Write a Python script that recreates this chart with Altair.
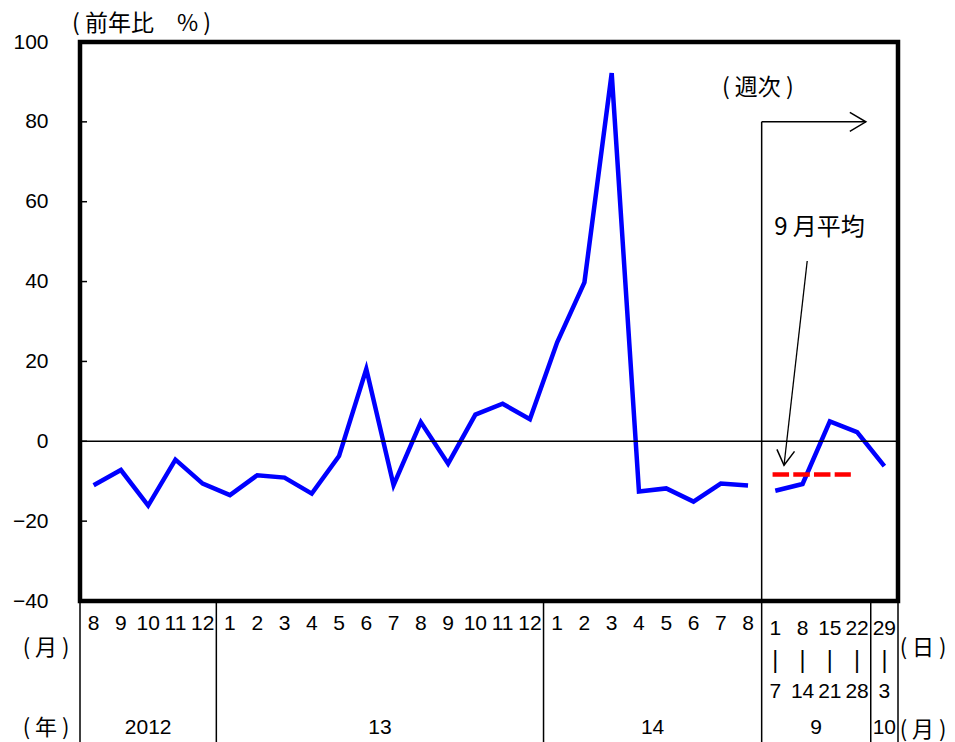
import altair as alt
import pandas as pd

# ---------------- data ----------------
month_labels = ["8", "9", "10", "11", "12",
                "1", "2", "3", "4", "5", "6", "7", "8", "9", "10", "11", "12",
                "1", "2", "3", "4", "5", "6", "7", "8"]
monthly_values = [-11.0, -7.2, -16.1, -4.6, -10.6,
                  -13.5, -8.5, -9.1, -13.1, -3.7, 18.1, -11.0, 4.8, -5.6, 6.7, 9.4, 5.5,
                  24.8, 39.8, 92.2, -12.6, -11.8, -15.1, -10.6, -11.1]
week_start = ["1", "8", "15", "22", "29"]
week_end = ["7", "14", "21", "28", "3"]
weekly_values = [-12.4, -10.7, 5.0, 2.3, -6.2]
sept_average = -8.3
year_labels = ["2012", "13", "14", "9", "10"]
year_counts = [5, 12, 8, 4, 1]
y_ticks = [-40, -20, 0, 20, 40, 60, 80, 100]
y_title = "( 前年比　% )"
week_note = "( 週次 )"
avg_note = "9 月平均"
unit_labels = ["( 月 )", "( 年 )", "( 日 )", "( 月 )"]

LATIN = "Liberation Sans"
CJK = "Noto Sans CJK JP"
W, H = 818, 559

n_month = len(month_labels)
n_all = n_month + len(week_start)

# ---------------- tables ----------------
line_df = pd.DataFrame({
    "x": list(range(n_all)),
    "v": monthly_values + weekly_values,
    "seg": ["month"] * n_month + ["week"] * len(week_start),
})
month_df = pd.DataFrame({"x": list(range(n_month)), "label": month_labels})
week_df = pd.DataFrame({
    "x": list(range(n_month, n_all)),
    "start": week_start,
    "bar": ["|"] * len(week_start),
    "end": week_end,
})
bounds = [-0.5]
for c in year_counts:
    bounds.append(bounds[-1] + c)
year_df = pd.DataFrame({
    "x": [(bounds[i] + 0.5 + bounds[i + 1] - 0.5) / 2 for i in range(len(year_labels))],
    "label": year_labels,
})
sep_df = pd.DataFrame({"x": [b for b in bounds if b != n_month - 0.5]})
avg_df = pd.DataFrame({"x": [n_month - 0.1, n_month + 2.77], "v": [sept_average] * 2})
tick_df = pd.DataFrame({"v": y_ticks[1:-1]})
zero_df = pd.DataFrame({"v": [0]})

# annotation anchors (in data units)
vline_df = pd.DataFrame({"x": [n_month - 0.5], "v": [80]})
hline_df = pd.DataFrame({"x": [n_month - 0.5], "x2": [28.32], "v": [80]})
hhead_df = pd.DataFrame({"x": [28.32], "v": [80]})
wtext_df = pd.DataFrame({"x": [24.36], "v": [88.4], "t": [week_note]})
atext_df = pd.DataFrame({"x": [26.62], "v": [53.3], "t": [avg_note]})
aarrow_df = pd.DataFrame({"x": [26.17], "x2": [25.32], "v": [45.15], "v2": [-6.0]})
ahead_df = pd.DataFrame({"x": [25.32], "v": [-6.0]})
unit_df = pd.DataFrame({"t": unit_labels, "px": [-34, -34, W + 25, W + 25], "py": [606, 686, 606, 688]})

xs = alt.Scale(domain=[-0.5, n_all - 0.5], nice=False, zero=False)
ys = alt.Scale(domain=[-40, 100], nice=False, zero=False)
yaxis = alt.Axis(values=y_ticks, grid=False, domain=False, ticks=False, tickSize=0,
                 labelPadding=32, labelFont=LATIN, labelFontSize=21, labelColor="black",
                 title=y_title, titleAngle=0, titleX=61, titleY=-19,
                 titleAlign="center", titleBaseline="middle", titleFont=CJK,
                 titleFontSize=23, titleFontWeight="normal", titleColor="black")


def X(f="x"):
    return alt.X(f + ":Q", scale=xs, axis=None)


def Y(f="v"):
    return alt.Y(f + ":Q", scale=ys, axis=yaxis)


# ---------------- layers ----------------
base_line = alt.Chart(line_df).mark_line(color="#0000FF", strokeWidth=4.5, strokeJoin="miter").encode(
    x=X(), y=Y(), detail="seg:N")

zero_rule = alt.Chart(zero_df).mark_rule(color="black", strokeWidth=1.6).encode(y=Y())

inner_ticks = alt.Chart(tick_df).mark_rule(color="black", strokeWidth=1.5).encode(
    y=Y(), x=alt.value(0), x2=alt.value(7))

avg_line = alt.Chart(avg_df).mark_line(color="#FF0000", strokeWidth=4.5,
                                       strokeDash=[16.5, 4.2]).encode(x=X(), y=Y())

week_vline = alt.Chart(vline_df).mark_rule(color="black", strokeWidth=1.5).encode(
    x=X(), y=Y(), y2=alt.value(H + 150))
week_hline = alt.Chart(hline_df).mark_rule(color="black", strokeWidth=1.5).encode(
    x=X(), x2="x2:Q", y=Y())
chevron = "M -1 -0.59 L 0 0 L -1 0.59"
week_head = alt.Chart(hhead_df).mark_point(shape=chevron, filled=False, stroke="black",
                                           strokeWidth=1.5, size=1024, opacity=1).encode(
    x=X(), y=Y())
week_text = alt.Chart(wtext_df).mark_text(font=CJK, fontSize=23, color="black").encode(
    x=X(), y=Y(), text="t:N")

avg_text = alt.Chart(atext_df).mark_text(font=CJK, fontSize=24, color="black").encode(
    x=X(), y=Y(), text="t:N")
avg_arrow = alt.Chart(aarrow_df).mark_rule(color="black", strokeWidth=1.3).encode(
    x=X(), x2="x2:Q", y=Y(), y2="v2:Q")
avg_head = alt.Chart(ahead_df).mark_point(shape=chevron, filled=False, stroke="black",
                                          strokeWidth=1.5, size=900, opacity=1, angle=96.5).encode(
    x=X(), y=Y())

seps = alt.Chart(sep_df).mark_rule(color="black", strokeWidth=1.5).encode(
    x=X(), y=alt.value(H), y2=alt.value(H + 150))
month_text = alt.Chart(month_df).mark_text(font=LATIN, fontSize=21, color="black").encode(
    x=X(), y=alt.value(581.5), text="label:N")
wk_start = alt.Chart(week_df).mark_text(font=LATIN, fontSize=21, color="black").encode(
    x=X(), y=alt.value(586.5), text="start:N")
wk_bar = alt.Chart(week_df).mark_text(font=LATIN, fontSize=23, color="black").encode(
    x=X(), y=alt.value(619), text="bar:N")
wk_end = alt.Chart(week_df).mark_text(font=LATIN, fontSize=21, color="black").encode(
    x=X(), y=alt.value(649.5), text="end:N")
year_text = alt.Chart(year_df).mark_text(font=LATIN, fontSize=21, color="black").encode(
    x=X(), y=alt.value(685.5), text="label:N")

unit_layers = []
for i in range(len(unit_labels)):
    unit_layers.append(
        alt.Chart(unit_df.iloc[[i]]).mark_text(font=CJK, fontSize=22, color="black").encode(
            x=alt.value(int(unit_df.px[i])), y=alt.value(int(unit_df.py[i])), text="t:N"))

chart = alt.layer(
    base_line, zero_rule, inner_ticks, week_vline, week_hline, week_head, week_text,
    avg_text, avg_arrow, avg_head, seps, month_text, wk_start, wk_bar, wk_end, year_text,
    avg_line, *unit_layers,
).properties(
    width=W, height=H,
    autosize=alt.AutoSizeParams(type="none"),
    padding={"left": 72, "top": 34, "right": 49, "bottom": 142},
).configure_view(stroke="black", strokeWidth=4.5)

chart.save("out.html", embed_options={"renderer": "svg", "actions": False})
